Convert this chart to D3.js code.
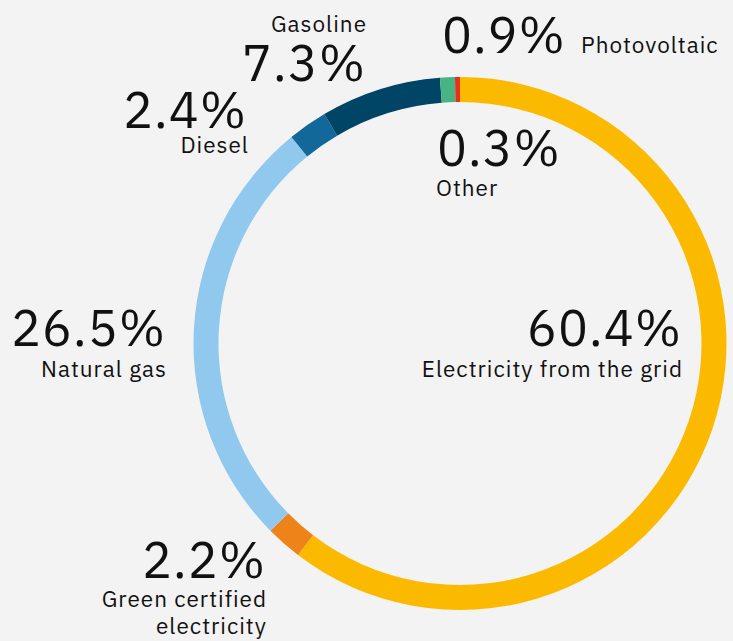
<!DOCTYPE html>
<html>
<head>
<meta charset="utf-8">
<script src="https://cdn.jsdelivr.net/npm/d3@7/dist/d3.min.js"></script>
<style>
  html, body { margin: 0; padding: 0; background: #f3f3f3; }
  svg { display: block; }
  text { font-family: "IBM Plex Sans", "Open Sans", "Noto Sans", sans-serif; fill: #111; }
</style>
</head>
<body>
<svg id="chart" width="733" height="641"></svg>
<script>
// Energy sources, share of total consumption (%)
const categories = ["Electricity from the grid", "Green certified electricity", "Natural gas", "Diesel", "Gasoline", "Photovoltaic", "Other"];
const shares = [60.4, 2.2, 26.5, 2.4, 7.3, 0.9, 0.3];
const colors = ["#fbba00", "#ee8419", "#90c8ee", "#12689a", "#004466", "#48b484", "#e4321e"];

// Label layout: anchor, value position, name lines and name position
const labelLayout = {
  "Electricity from the grid":   { anchor: "end",   vx: 682, vy: 346, nx: 683, ny: 377, lines: ["Electricity from the grid"] },
  "Green certified electricity": { anchor: "end",   vx: 266, vy: 578, nx: 267, ny: 607, lines: ["Green certified", "electricity"] },
  "Natural gas":                 { anchor: "end",   vx: 166, vy: 346, nx: 167, ny: 377, lines: ["Natural gas"] },
  "Diesel":                      { anchor: "end",   vx: 247, vy: 128, nx: 249, ny: 153, lines: ["Diesel"] },
  "Gasoline":                    { anchor: "end",   vx: 366, vy: 81,  nx: 367, ny: 32,  lines: ["Gasoline"] },
  "Photovoltaic":                { anchor: "start", vx: 442, vy: 53,  nx: 581, ny: 53,  lines: ["Photovoltaic"] },
  "Other":                       { anchor: "start", vx: 437, vy: 166, nx: 436, ny: 196, lines: ["Other"] }
};

const data = categories.map((c, i) => ({ name: c, value: shares[i], color: colors[i] }));

const svg = d3.select("#chart");
const cx = 460, cy = 343.5, outerR = 266.5, innerR = 241.5;

const pie = d3.pie().value(d => d.value).sort(null).startAngle(0).endAngle(2 * Math.PI);
const arc = d3.arc().innerRadius(innerR).outerRadius(outerR);

svg.append("g")
  .attr("transform", `translate(${cx},${cy})`)
  .selectAll("path")
  .data(pie(data))
  .join("path")
  .attr("d", arc)
  .attr("fill", d => d.data.color);

const fmt = d3.format(".1f");
const labels = svg.append("g");
data.forEach(d => {
  const L = labelLayout[d.name];
  labels.append("text")
    .attr("x", L.vx).attr("y", L.vy)
    .attr("text-anchor", L.anchor)
    .style("font-size", "50px")
    .style("letter-spacing", "1px")
    .text(fmt(d.value) + "%");
  const t = labels.append("text")
    .attr("x", L.nx).attr("y", L.ny)
    .attr("text-anchor", L.anchor)
    .style("font-size", "22.5px")
    .style("letter-spacing", "1px");
  L.lines.forEach((line, i) => {
    t.append("tspan").attr("x", L.nx).attr("dy", i === 0 ? 0 : 27).text(line);
  });
});
</script>
</body>
</html>
